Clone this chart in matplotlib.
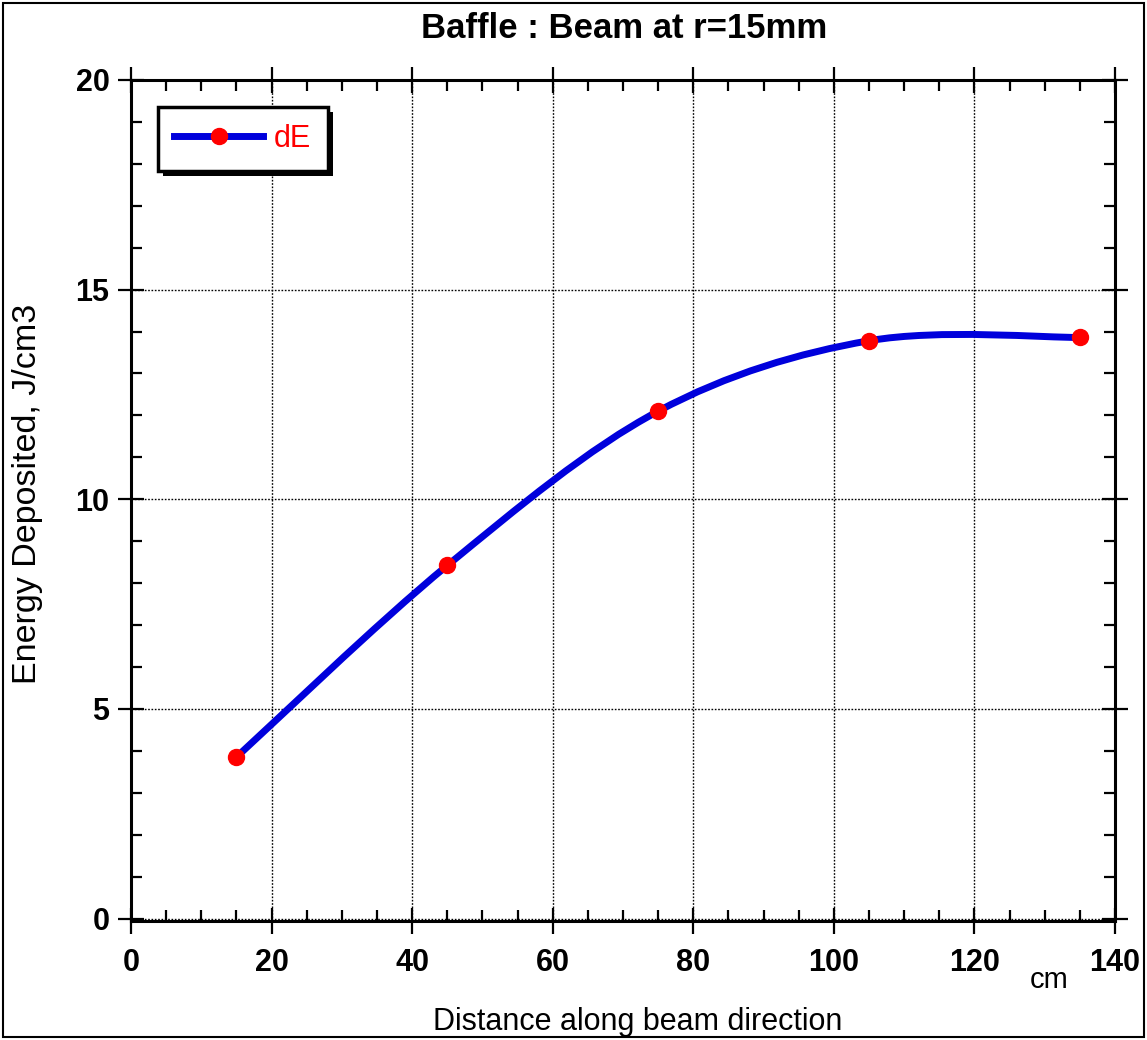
import numpy as np
import matplotlib
matplotlib.use("Agg")
import matplotlib.pyplot as plt
from matplotlib.path import Path
from matplotlib.patches import PathPatch, Rectangle
from matplotlib.lines import Line2D
from matplotlib.ticker import MultipleLocator
import matplotlib.patheffects as pe

plt.rcParams['font.family'] = ['Liberation Sans', 'DejaVu Sans']

# data
x_cm = [15, 45, 75, 105, 135]
dE = [3.85, 8.42, 12.1, 13.78, 13.86]
title = "Baffle : Beam at r=15mm"
xlabel = "Distance along beam direction"
ylabel = "Energy Deposited, J/cm3"

line_col = '#0000dc'
dot_col = '#ff0000'

fig = plt.figure(figsize=(11.47, 10.4), dpi=100)
ax = fig.add_axes([0.1142, 0.1144, 0.8579, 0.8087])

# smooth curve through the points (Catmull-Rom as cubic bezier segments)
px = np.array(x_cm, dtype=float)
py = np.array(dE, dtype=float)
pts = np.column_stack([px, py])
ext = np.vstack([pts[0], pts, pts[-1]])
verts = [tuple(pts[0])]
codes = [Path.MOVETO]
for i in range(len(pts) - 1):
    p0, p1, p2, p3 = ext[i], ext[i + 1], ext[i + 2], ext[i + 3]
    c1 = p1 + (p2 - p0) / 6.0
    c2 = p2 - (p3 - p1) / 6.0
    verts += [tuple(c1), tuple(c2), tuple(p2)]
    codes += [Path.CURVE4] * 3
curve = PathPatch(Path(verts, codes), facecolor='none', edgecolor=line_col,
                  lw=5, capstyle='butt', zorder=3)
ax.add_patch(curve)
ax.plot(x_cm, dE, ls='none', marker='o', ms=11.5, color=dot_col, zorder=4)

ax.set_xlim(0, 140)
ax.set_ylim(-0.06, 20)
ax.xaxis.set_major_locator(MultipleLocator(20))
ax.xaxis.set_minor_locator(MultipleLocator(5))
ax.yaxis.set_major_locator(MultipleLocator(5))
ax.yaxis.set_minor_locator(MultipleLocator(1))
ax.grid(True, which='major', color='black', ls=(0, (1.2, 1.2)), lw=1.0)

ax.tick_params(which='major', direction='inout', length=19, width=1.6,
               top=True, right=True, labelsize=22, pad=6)
ax.tick_params(axis='x', which='major', pad=10)
ax.tick_params(which='minor', direction='in', length=8, width=1.6,
               top=True, right=True)
for lab in ax.get_xticklabels() + ax.get_yticklabels():
    lab.set_fontweight('bold')
for s in ax.spines.values():
    s.set_linewidth(2.2)

# legend with a hard black shadow
handle = Line2D([], [], color=line_col, lw=5, marker='o', ms=11.5,
                markerfacecolor=dot_col, markeredgecolor=dot_col)
leg = ax.legend([handle], ['dE'], loc='upper left', bbox_to_anchor=(0.027, 0.968),
                borderaxespad=0, fancybox=False, framealpha=1, edgecolor='black',
                fontsize=22, handlelength=2.9, handletextpad=0.35,
                borderpad=0.55, labelcolor=dot_col)
leg.get_frame().set_linewidth(2.5)
leg.get_frame().set_path_effects([pe.SimplePatchShadow(offset=(4, -4),
                                  shadow_rgbFace='black', alpha=1), pe.Normal()])

fig.text(0.544, 0.973, title, ha='center', va='center', fontsize=25, fontweight='bold')
fig.text(0.556, 0.017, xlabel, ha='center', va='center', fontsize=22)
fig.text(0.024, 0.525, ylabel, ha='center', va='center', fontsize=24.5, rotation=90)
fig.text(0.915, 0.058, 'cm', ha='center', va='center', fontsize=21)

# outer frame of the figure
fig.patches.append(Rectangle((0.003, 0.003), 0.994, 0.994, transform=fig.transFigure,
                             fill=False, edgecolor='black', lw=1.5))

fig.savefig('out.png', dpi=100)
